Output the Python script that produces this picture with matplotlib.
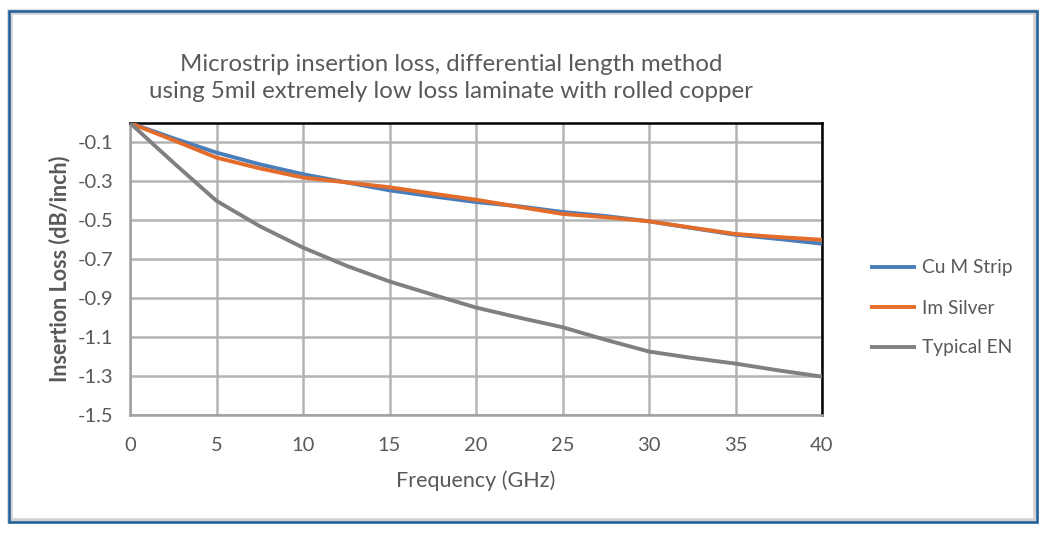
import matplotlib
matplotlib.use("Agg")
import matplotlib.pyplot as plt
from matplotlib.patches import Rectangle
from matplotlib.ticker import NullLocator

plt.rcParams['font.family'] = ['Lato', 'DejaVu Sans']

# valores (GHz, dB/inch)
freq = [0, 2.5, 5, 7.5, 10, 12.5, 15, 17.5, 20, 22.5, 25, 27.5, 30, 32.5, 35, 37.5, 40]
cu_m_strip = [0, -0.078, -0.152, -0.212, -0.263, -0.305, -0.346, -0.377, -0.406,
              -0.428, -0.457, -0.478, -0.505, -0.540, -0.574, -0.596, -0.620]
im_silver = [0, -0.088, -0.178, -0.233, -0.280, -0.305, -0.330, -0.363, -0.394,
             -0.431, -0.467, -0.484, -0.505, -0.538, -0.570, -0.586, -0.600]
typical_en = [0, -0.203, -0.400, -0.530, -0.640, -0.733, -0.814, -0.882, -0.948,
              -1.000, -1.049, -1.114, -1.174, -1.207, -1.236, -1.271, -1.303]

series = [("Cu M Strip", cu_m_strip, "#4A7EBB"),
          ("Im Silver", im_silver, "#E46C2A"),
          ("Typical EN", typical_en, "#808080")]

xticks = [0, 5, 10, 15, 20, 25, 30, 35, 40]
yticks = [-0.1, -0.3, -0.5, -0.7, -0.9, -1.1, -1.3, -1.5]

txt = "#595959"

fig = plt.figure(figsize=(10.46, 5.33), dpi=100)
fig.patches.append(Rectangle((10 / 1046, 12 / 533), 1026 / 1046, 509 / 533,
                             transform=fig.transFigure, fill=False,
                             edgecolor="#D0D0D0", linewidth=4, zorder=0))
fig.patches.append(Rectangle((9 / 1046, 11 / 533), 1028 / 1046, 511 / 533,
                             transform=fig.transFigure, fill=False,
                             edgecolor="#1F5F99", linewidth=1.8, zorder=1))

ax = fig.add_axes([130 / 1046, 1 - 415 / 533, 692 / 1046, 292 / 533])

for nombre, valores, color in series:
    ax.plot(freq, valores, color=color, linewidth=2.8, label=nombre,
            solid_joinstyle="round", solid_capstyle="butt", zorder=3)

ax.set_xlim(0, 40)
ax.set_ylim(-1.5, 0)
ax.set_xticks(xticks)
ax.set_yticks(yticks)
ax.set_yticklabels([f"{v:.1f}" for v in yticks])
ax.xaxis.set_minor_locator(NullLocator())
ax.yaxis.set_minor_locator(NullLocator())
ax.grid(True, which="major", color="#B4B4B4", linewidth=1.8)
ax.tick_params(length=0, labelsize=14.5, colors=txt)
ax.tick_params(axis="x", pad=16)
ax.tick_params(axis="y", pad=12)

for lado in ["left", "bottom"]:
    ax.spines[lado].set_color("#A0A0A0")
    ax.spines[lado].set_linewidth(1.8)
for lado in ["top", "right"]:
    ax.spines[lado].set_color("black")
    ax.spines[lado].set_linewidth(1.8)

ax.set_xlabel("Frequency (GHz)", fontsize=15.5, color=txt, labelpad=12)
ax.set_ylabel("Insertion Loss (dB/inch)", fontsize=15.5, color=txt,
              fontweight="bold", labelpad=5)

fig.text(451 / 1046, 1 - 78 / 533,
         "Microstrip insertion loss, differential length method\n"
         "using 5mil extremely low loss laminate with rolled copper",
         ha="center", va="center", fontsize=17.3, color=txt, linespacing=1.3)

leg = fig.legend(loc="center left", bbox_to_anchor=(853 / 1046, 1 - 308 / 533),
                 frameon=False, fontsize=13.8, handlelength=2.4,
                 labelspacing=1.2, handletextpad=0.3)
for t in leg.get_texts():
    t.set_color(txt)

fig.savefig("out.png", dpi=100)
